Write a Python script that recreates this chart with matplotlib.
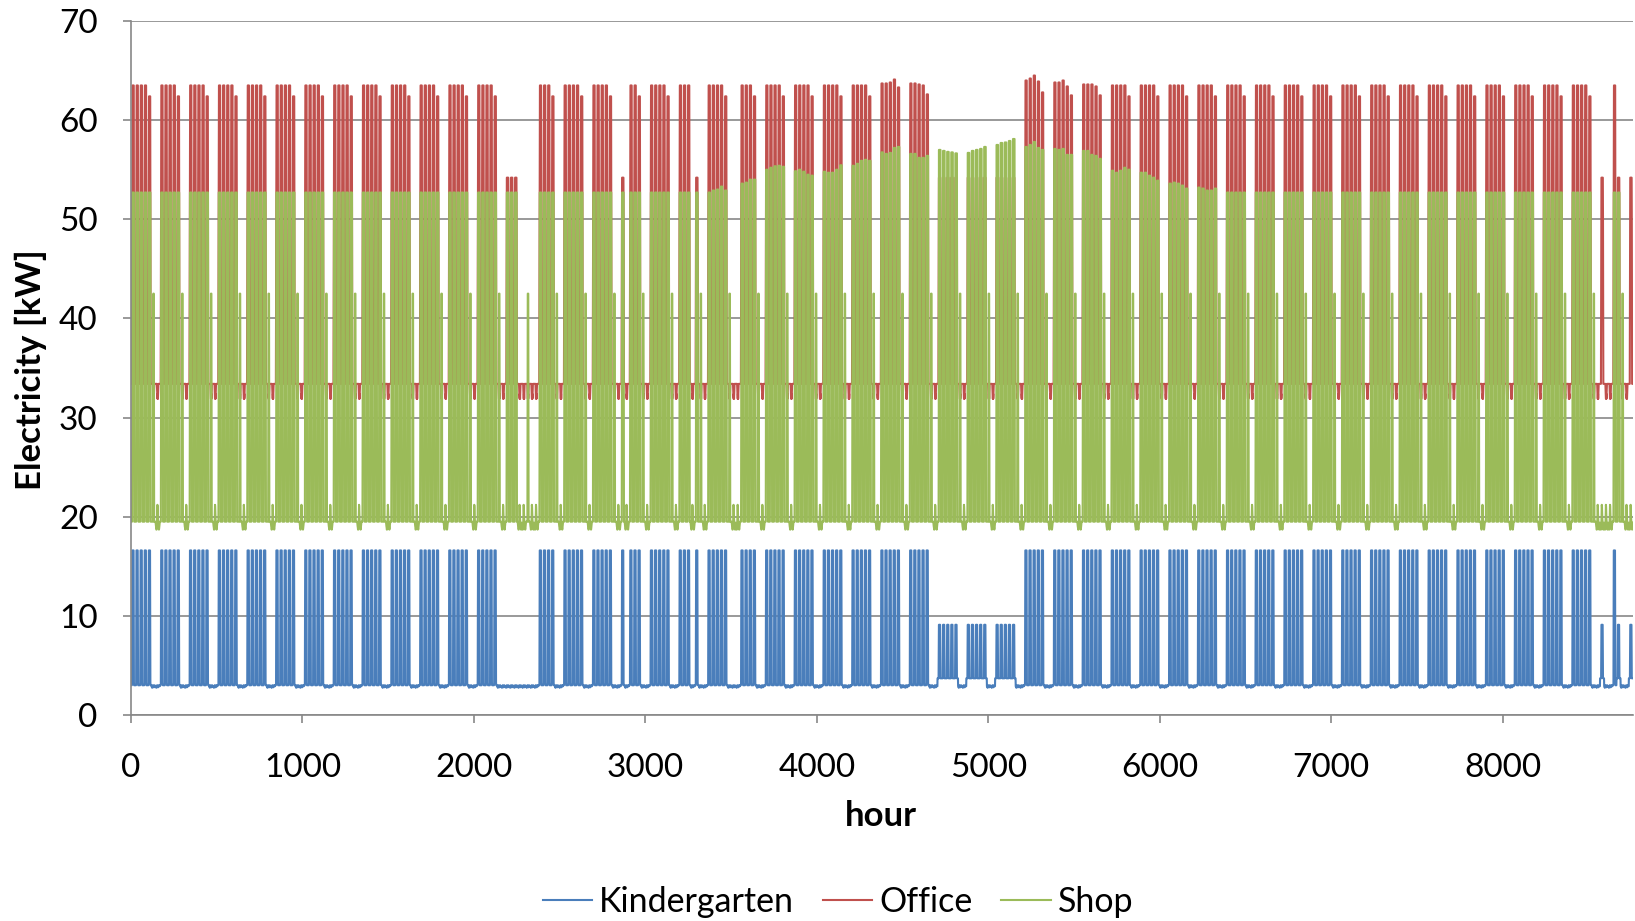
import matplotlib
matplotlib.use("Agg")
import matplotlib.pyplot as plt
import numpy as np

BLUE = "#4A7EBB"; RED = "#C0504D"; GREEN = "#9BBB59"; GRID = "#888888"
plt.rcParams["font.family"] = ["Lato", "DejaVu Sans"]

# one day, hours 00..23; None = the day's peak value
KG_OPEN = [3.0]*6 + [3.2, 9.0] + [None]*8 + [9.0, 3.3] + [3.0]*6
KG_LOW = [3.7]*7 + [6.4] + [None]*8 + [6.4] + [3.7]*7
KG_SHUT = [2.9, 2.85, 2.8, 2.8, 2.75, 2.8, 2.85, 2.9, 3.0, 3.0, 2.95, 2.9,
           2.85, 2.8, 2.8, 2.85, 2.9, 2.95, 3.0, 2.95, 2.9, 2.9, 2.9, 2.9]
OFFICE_OPEN = [33.4]*6 + [42.0, 51.0] + [None]*9 + [50.0, 40.0] + [33.4]*5
OFFICE_SHUT = [33.4]*8 + [32.8, 32.2, 31.9, 31.9, 32.4, 31.9, 32.5, 33.0] + [33.4]*8
SHOP_OPEN = [19.5]*7 + [29.0] + [None]*10 + [31.0] + [19.5]*5
SHOP_SAT = [19.5]*9 + [31.0] + [42.5]*4 + [30.0] + [19.5]*9
SHOP_SUN = [19.3, 19.2, 19.0, 18.9, 18.7, 18.7, 18.8, 19.0, 19.5, 20.5, 21.2, 21.0,
            20.3, 19.8, 19.5, 19.3, 19.2, 19.0, 18.8, 18.7, 18.8, 19.0, 19.2, 19.4]

KG_PEAK = 16.6
KG_PEAK_LOW = 9.1
OFFICE_PEAK_LOW = 54.2

# day codes Mon..Sun per week (2007, Norwegian calendar)
# W workday, F friday, S saturday, U sunday/holiday, E easter week,
# B bridge day, V summer/christmas reduced, X christmas eve / new year's eve
WEEK_DEFAULT = "WWWWFSU"
WEEK_CODES = {
    13: "EEEUUSU", 14: "UWWWFSU", 17: "BUWWFSU", 19: "WWWUBSU", 21: "UWWWFSU",
    28: "VVVVVSU", 29: "VVVVVSU", 30: "VVVVVSU",
    51: "XUUWVSU", 52: "X",
}

# daytime peaks Mon..Fri
OFFICE_PEAKS_DEFAULT = [63.5, 63.5, 63.5, 63.5, 62.4]
OFFICE_PEAKS = {
    26: [63.7, 63.7, 63.8, 64.1, 63.3],
    27: [63.7, 63.7, 63.6, 63.5, 62.6],
    31: [64.0, 64.2, 64.5, 63.9, 62.8],
    32: [63.8, 63.8, 64.0, 63.4, 62.5],
    33: [63.6, 63.6, 63.6, 63.4, 62.5],
}
SHOP_PEAKS_DEFAULT = [52.7]*5
SHOP_PEAKS = {
    20: [52.7, 52.9, 53.0, 53.3, 52.9],
    21: [53.6, 53.6, 53.7, 54.0, 54.0],
    22: [55.0, 55.2, 55.35, 55.4, 55.3],
    23: [54.85, 55.0, 54.8, 54.5, 54.4],
    24: [54.8, 54.7, 54.7, 55.0, 55.45],
    25: [55.4, 55.6, 55.9, 56.0, 55.9],
    26: [56.75, 56.6, 56.7, 57.2, 57.3],
    27: [56.6, 56.6, 56.2, 56.2, 56.4],
    28: [57.0, 56.9, 56.8, 56.75, 56.65],
    29: [56.7, 56.9, 57.0, 57.1, 57.3],
    30: [57.5, 57.7, 57.75, 57.9, 58.1],
    31: [57.3, 57.5, 57.8, 57.2, 57.0],
    32: [57.1, 57.0, 57.1, 56.5, 56.5],
    33: [56.9, 56.9, 56.5, 56.4, 56.1],
    34: [54.9, 54.7, 54.9, 55.2, 55.0],
    35: [54.7, 54.7, 54.4, 54.2, 53.9],
    36: [53.6, 53.7, 53.6, 53.4, 53.1],
    37: [53.2, 53.1, 52.9, 52.9, 53.1],
}

N_DAYS = 365


def fill(profile, peak):
    return [peak if v is None else v for v in profile]


def build():
    kg, office, shop = [], [], []
    for d in range(N_DAYS):
        week, dow = divmod(d, 7)
        code = WEEK_CODES.get(week, WEEK_DEFAULT)[dow]
        op = OFFICE_PEAKS.get(week, OFFICE_PEAKS_DEFAULT)[min(dow, 4)]
        sp = SHOP_PEAKS.get(week, SHOP_PEAKS_DEFAULT)[min(dow, 4)]
        if code in "WF":
            k, o, s = fill(KG_OPEN, KG_PEAK), fill(OFFICE_OPEN, op), fill(SHOP_OPEN, sp)
        elif code == "S":
            k, o, s = KG_SHUT, OFFICE_SHUT, SHOP_SAT
        elif code == "U":
            k, o, s = KG_SHUT, OFFICE_SHUT, SHOP_SUN
        elif code == "E":
            k, o, s = KG_SHUT, fill(OFFICE_OPEN, OFFICE_PEAK_LOW), fill(SHOP_OPEN, sp)
        elif code == "B":
            k, o, s = fill(KG_OPEN, KG_PEAK), fill(OFFICE_OPEN, OFFICE_PEAK_LOW), fill(SHOP_OPEN, sp)
        elif code == "V":
            k, o, s = fill(KG_LOW, KG_PEAK_LOW), fill(OFFICE_OPEN, OFFICE_PEAK_LOW), fill(SHOP_OPEN, sp)
        else:  # X
            k, o, s = fill(KG_LOW, KG_PEAK_LOW), fill(OFFICE_OPEN, OFFICE_PEAK_LOW), SHOP_SUN
        kg += k; office += o; shop += s
    return np.array(kg), np.array(office), np.array(shop)


kg, office, shop = build()
hours = np.arange(len(kg))

fig = plt.figure(figsize=(16.35, 9.21), dpi=100)
ax = fig.add_axes([131/1635, 1 - 715/921, 1502/1635, 694/921])
ax.plot(hours, kg, color=BLUE, lw=1.5, label="Kindergarten")
ax.plot(hours, office, color=RED, lw=1.5, label="Office")
ax.plot(hours, shop, color=GREEN, lw=1.5, label="Shop")

ax.set_xlim(0, 8760)
ax.set_ylim(0, 70)
ax.set_xticks(range(0, 8001, 1000))
ax.set_yticks(range(0, 71, 10))
ax.grid(axis="y", color=GRID, lw=1.2)
ax.set_axisbelow(True)
for sp in ("top", "right"):
    ax.spines[sp].set_visible(False)
for sp in ("left", "bottom"):
    ax.spines[sp].set_color(GRID); ax.spines[sp].set_linewidth(1.2)
ax.tick_params(axis="x", direction="out", length=6, width=1.2, color=GRID, labelsize=24, pad=21)
ax.tick_params(axis="y", direction="out", length=6, width=1.2, color=GRID, labelsize=24, pad=18)

fig.text(31/1635, 1 - 370/921, "Electricity [kW]", rotation=90, ha="center", va="center",
         fontsize=25, fontweight="bold")
fig.text(881/1635, 1 - 816/921, "hour", ha="center", va="center", fontsize=25, fontweight="bold")
fig.legend(loc="center", bbox_to_anchor=(838/1635, 1 - 902/921), ncol=3, frameon=False,
           fontsize=24.5, handlelength=1.45, handletextpad=0.2, columnspacing=0.85)

fig.savefig("out.png", dpi=100)
